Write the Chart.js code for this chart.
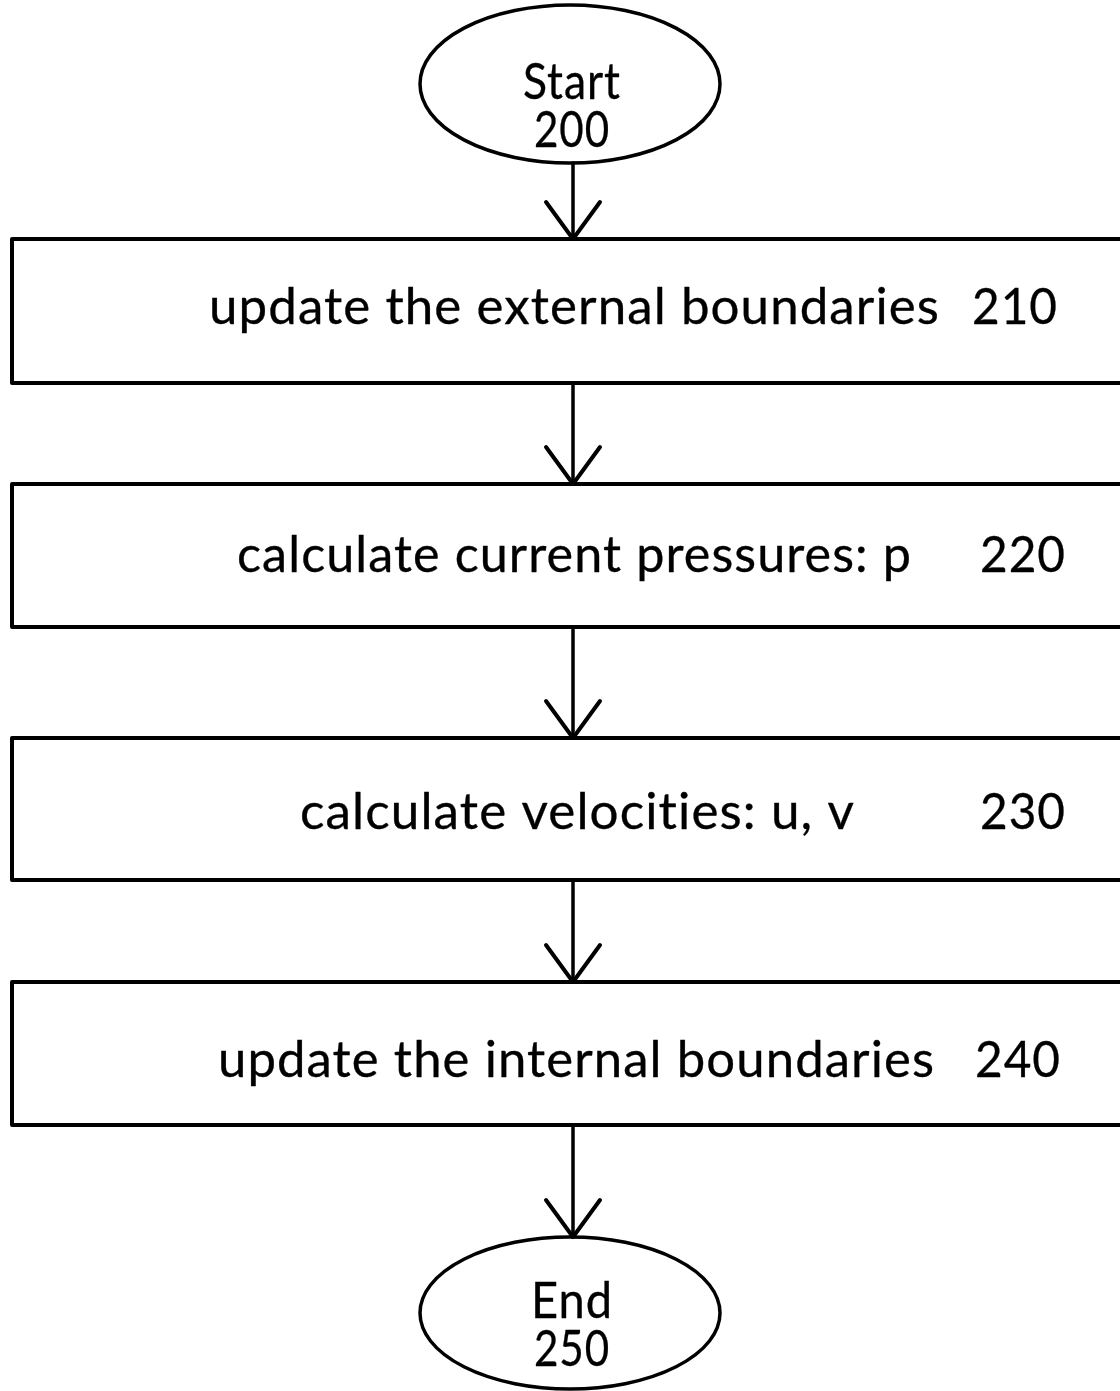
<!DOCTYPE html>
<html>
<head>
<meta charset="utf-8">
<script src="https://cdn.jsdelivr.net/npm/chart.js@4"></script>
<style>
  html, body { margin: 0; padding: 0; background: #fff; }
  #wrap { width: 1120px; height: 1391px; }
</style>
</head>
<body>
<div id="wrap"><canvas id="flowChart"></canvas></div>
<script>
// flowchart content
const stepLabels = [
    'update the external boundaries',
    'calculate current pressures: p',
    'calculate velocities: u, v',
    'update the internal boundaries'
];
const stepNumbers = ['210', '220', '230', '240'];
const terminalLabels = ['Start', 'End'];
const terminalNumbers = ['200', '250'];

// layout, in page units (y runs downwards)
const boxLeft = 12, boxRight = 1126;
const boxTops = [239, 484, 738, 982];
const boxBottoms = [383, 627, 880, 1125];
const labelLeft = [209, 237, 300, 218];
const labelWidth = [731, 675, 555, 717];
const numberLeft = [972, 980, 980, 975];
const labelBaseline = [324, 572, 829, 1077];

const ovalX = 570;
const ovalY = [84, 1313];
const ovalRx = [150, 150];
const ovalRy = [79, 76];
const ovalTextBase = [[99, 147], [1318, 1366]];
const ovalTextWidth = [[98, 76], [82, 76]];

const arrowX = 573;
const FONT = 'Lato, "DejaVu Sans", sans-serif';

const flowPlugin = {
    id: 'flow',
    afterDraw(chart) {
        const ctx = chart.ctx;
        const sx = chart.scales.x, sy = chart.scales.y;
        const px = v => sx.getPixelForValue(v);
        const py = v => sy.getPixelForValue(v);

        ctx.save();
        ctx.strokeStyle = '#000';
        ctx.fillStyle = '#000';
        ctx.lineCap = 'round';
        ctx.lineJoin = 'round';

        function text(str, left, width, base, size, center) {
            ctx.save();
            ctx.font = size + 'px ' + FONT;
            ctx.letterSpacing = '1px'; // keeps "ti" from turning into a ligature
            ctx.textBaseline = 'alphabetic';
            const m = ctx.measureText(str).width;
            const x0 = center ? left - width / 2 : left;
            ctx.translate(px(x0), py(base));
            ctx.scale(width / m, 1.06);
            ctx.lineWidth = 0.3;
            ctx.fillText(str, 0, 0);
            ctx.strokeText(str, 0, 0);
            ctx.restore();
        }

        function arrow(y0, y1) {
            ctx.lineWidth = 3.5;
            ctx.beginPath();
            ctx.moveTo(px(arrowX), py(y0));
            ctx.lineTo(px(arrowX), py(y1));
            ctx.stroke();
            ctx.lineWidth = 4;
            ctx.beginPath();
            ctx.moveTo(px(arrowX - 27), py(y1 - 37));
            ctx.lineTo(px(arrowX), py(y1));
            ctx.lineTo(px(arrowX + 27), py(y1 - 37));
            ctx.stroke();
        }

        // terminals
        terminalLabels.forEach((lab, i) => {
            ctx.lineWidth = 3.5;
            ctx.beginPath();
            ctx.ellipse(px(ovalX), py(ovalY[i]),
                Math.abs(px(ovalRx[i]) - px(0)), Math.abs(py(ovalRy[i]) - py(0)),
                0, 0, Math.PI * 2);
            ctx.stroke();
            text(lab, ovalX + 2, ovalTextWidth[i][0], ovalTextBase[i][0], 48, true);
            text(terminalNumbers[i], ovalX + 2, ovalTextWidth[i][1], ovalTextBase[i][1], 48, true);
        });

        // process boxes
        stepLabels.forEach((lab, i) => {
            ctx.lineWidth = 4;
            ctx.strokeRect(px(boxLeft), py(boxTops[i]),
                px(boxRight) - px(boxLeft), py(boxBottoms[i]) - py(boxTops[i]));
            text(lab, labelLeft[i], labelWidth[i], labelBaseline[i], 47, false);
            text(stepNumbers[i], numberLeft[i], 86, labelBaseline[i], 48, false);
        });

        // connectors
        arrow(ovalY[0] + ovalRy[0], boxTops[0]);
        for (let i = 0; i < boxTops.length - 1; i++) {
            arrow(boxBottoms[i], boxTops[i + 1]);
        }
        arrow(boxBottoms[boxBottoms.length - 1], ovalY[1] - ovalRy[1]);

        ctx.restore();
    }
};

const canvas = document.getElementById('flowChart');
new Chart(canvas.getContext('2d'), {
    type: 'scatter',
    data: {
        datasets: [{
            // node anchors: terminals and step boxes
            data: ovalY.map(v => ({ x: ovalX, y: v }))
                .concat(boxTops.map((t, i) => ({ x: ovalX, y: (t + boxBottoms[i]) / 2 }))),
            pointRadius: 0
        }]
    },
    options: {
        responsive: true,
        maintainAspectRatio: false,
        animation: false,
        layout: { padding: 0 },
        plugins: {
            legend: { display: false },
            tooltip: { enabled: false }
        },
        scales: {
            x: { type: 'linear', min: 0, max: 1120, display: false },
            y: { type: 'linear', min: 0, max: 1391, reverse: true, display: false }
        }
    },
    plugins: [flowPlugin]
});
</script>
</body>
</html>
